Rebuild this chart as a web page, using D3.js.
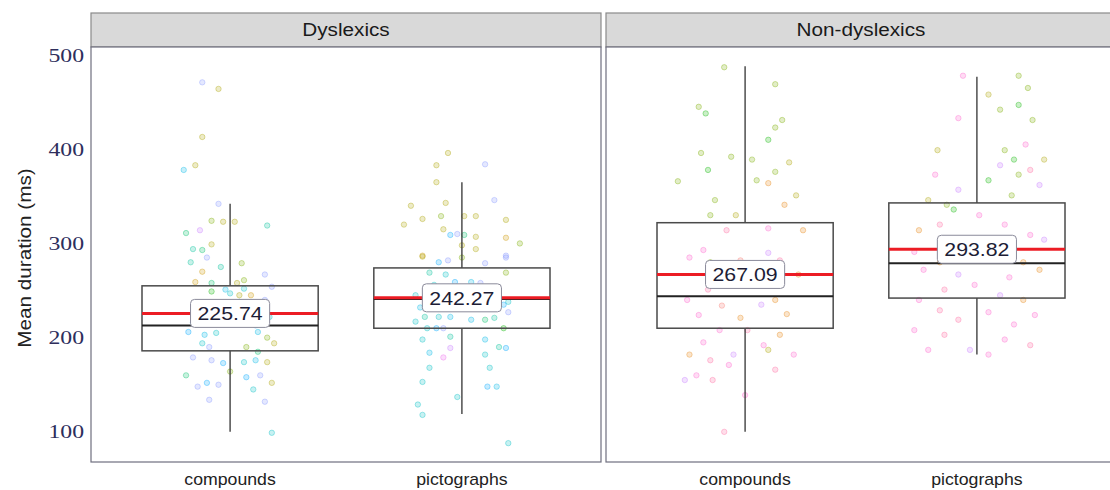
<!DOCTYPE html>
<html>
<head>
<meta charset="utf-8">
<script src="https://cdn.jsdelivr.net/npm/d3@7/dist/d3.min.js"></script>
<style>
  body { margin: 0; background: #fff; }
  svg { display: block; }
</style>
</head>
<body>
<svg id="chart"></svg>
<script>
// ---- data ----
var facets = ["Dyslexics", "Non-dyslexics"];
var conditions = ["compounds", "pictographs"];
var yTicks = [100, 200, 300, 400, 500];

// box stats, [facet][condition]
var whiskerLow  = [[100, 119], [100, 182]];
var boxQ1       = [[186, 210], [210, 242]];
var boxMedian   = [[213, 241], [244, 279]];
var boxQ3       = [[255, 274], [322, 343]];
var whiskerHigh = [[342, 365], [488, 477]];
var means       = [[225.74, 242.27], [267.09, 293.82]];

// hue palette used for the participant colours
var palette = ["#F8766D", "#E68613", "#CD9600", "#ABA300", "#7CAE00", "#0CB702",
               "#00BE67", "#00C19A", "#00BFC4", "#00B8E7", "#00A9FF", "#8494FF",
               "#C77CFF", "#ED68ED", "#FF61CC", "#FF68A1"];

// points: [jitter (category units), mean duration, colour index]
var dysCompounds = [
  [-0.12, 471, 11], [-0.05, 464, 3], [-0.12, 413, 3], [-0.20, 378, 9], [-0.15, 383, 3],
  [-0.05, 342, 11], [-0.08, 324, 4], [-0.03, 323, 3], [0.02, 323, 3], [0.16, 319, 7],
  [-0.19, 311, 6], [-0.13, 314, 12], [-0.16, 294, 7], [-0.12, 293, 6], [-0.08, 299, 3],
  [-0.17, 280, 7], [-0.10, 285, 11], [-0.04, 275, 7], [0.05, 279, 4], [-0.12, 270, 2],
  [0.15, 267, 11], [0.06, 261, 4], [0.03, 258, 3], [-0.08, 258, 6], [-0.15, 259, 2],
  [0.18, 254, 11], [-0.08, 249, 5], [0.00, 247, 8], [0.04, 245, 3], [0.09, 245, 2],
  [0.06, 252, 8], [-0.02, 251, 9], [-0.15, 236, 8], [-0.09, 230, 9], [0.12, 233, 10],
  [0.17, 222, 8], [-0.16, 216, 9], [-0.05, 218, 8], [0.11, 213, 10], [-0.12, 226, 7],
  [0.04, 238, 9], [0.15, 240, 11], [-0.18, 206, 10], [-0.11, 203, 9], [-0.06, 205, 8],
  [0.12, 206, 9], [0.16, 200, 4], [0.19, 194, 3], [-0.12, 194, 8], [-0.09, 190, 11],
  [0.07, 190, 4], [0.12, 185, 6], [-0.16, 179, 11], [-0.08, 176, 11], [-0.03, 173, 10],
  [0.06, 174, 8], [0.11, 176, 9], [0.16, 174, 3], [-0.19, 160, 6], [0.00, 164, 4],
  [0.07, 158, 10], [0.13, 160, 11], [-0.14, 148, 11], [-0.10, 152, 10], [-0.05, 150, 11],
  [0.18, 152, 3], [0.10, 145, 8], [-0.09, 134, 11], [0.15, 132, 11], [0.18, 99, 8]
];
var dysPictographs = [
  [-0.06, 396, 3], [-0.11, 383, 3], [0.10, 384, 11], [-0.11, 365, 3], [0.14, 346, 11],
  [-0.07, 343, 3], [-0.22, 340, 3], [-0.17, 326, 3], [-0.09, 329, 4], [0.01, 329, 3],
  [0.06, 329, 3], [0.19, 325, 3], [-0.25, 320, 3], [-0.08, 315, 3], [-0.05, 309, 10],
  [-0.02, 310, 11], [0.01, 309, 6], [0.06, 307, 3], [0.19, 306, 2], [0.25, 300, 4],
  [0.00, 298, 3], [0.06, 294, 3], [-0.17, 287, 2], [0.19, 287, 11], [-0.17, 286, 3],
  [-0.10, 280, 10], [-0.06, 282, 11], [0.00, 285, 4], [0.10, 279, 11], [0.19, 285, 11],
  [-0.14, 269, 7], [-0.07, 267, 8], [0.19, 269, 4], [-0.12, 256, 8], [-0.03, 259, 10],
  [0.04, 259, 9], [0.08, 258, 11], [-0.20, 245, 8], [-0.12, 250, 9], [0.13, 248, 10],
  [0.20, 238, 8], [-0.18, 232, 9], [0.05, 236, 8], [0.18, 235, 10], [0.20, 227, 11],
  [-0.20, 217, 8], [-0.16, 222, 7], [-0.10, 222, 8], [-0.05, 222, 9], [0.04, 219, 9],
  [0.10, 219, 6], [0.14, 221, 7], [0.18, 210, 5], [-0.15, 210, 8], [-0.11, 210, 10],
  [-0.08, 210, 11], [-0.17, 198, 8], [-0.05, 201, 7], [0.10, 198, 9], [0.16, 190, 7],
  [0.19, 189, 10], [-0.05, 189, 12], [-0.14, 184, 9], [0.10, 182, 8], [-0.08, 179, 13],
  [-0.14, 168, 8], [0.12, 168, 8], [-0.17, 153, 8], [0.11, 148, 10], [0.15, 148, 9],
  [-0.02, 137, 8], [-0.19, 129, 8], [-0.17, 118, 8], [0.20, 88, 8]
];
var nonCompounds = [
  [-0.09, 487, 4], [0.13, 469, 4], [-0.20, 445, 4], [-0.17, 438, 5], [0.16, 431, 4],
  [0.13, 423, 4], [0.10, 410, 5], [0.03, 389, 4], [0.19, 386, 3], [-0.06, 392, 4],
  [-0.19, 396, 4], [-0.16, 378, 5], [0.13, 376, 4], [0.05, 367, 4], [0.10, 364, 1],
  [-0.29, 366, 4], [0.22, 351, 3], [-0.13, 346, 4], [-0.04, 330, 3], [0.17, 341, 1],
  [-0.15, 330, 4], [0.10, 316, 14], [-0.08, 314, 15], [0.25, 314, 1], [-0.18, 293, 14],
  [0.10, 290, 12], [0.15, 282, 15], [-0.24, 285, 14], [-0.02, 282, 0], [-0.15, 280, 4],
  [0.23, 267, 1], [-0.07, 261, 14], [0.06, 256, 1], [-0.16, 251, 15], [-0.25, 240, 14],
  [0.13, 240, 1], [-0.10, 234, 0], [0.07, 235, 12], [-0.20, 224, 14], [-0.02, 221, 1],
  [0.18, 225, 1], [0.01, 208, 15], [-0.11, 208, 14], [0.15, 203, 1], [-0.18, 195, 14],
  [-0.24, 182, 1], [-0.15, 176, 15], [0.08, 192, 14], [0.21, 182, 14], [-0.05, 182, 12],
  [0.10, 187, 3], [-0.07, 171, 14], [0.13, 166, 15], [-0.21, 160, 14], [-0.26, 155, 12],
  [-0.14, 155, 15], [0.00, 139, 14], [-0.09, 100, 15]
];
var nonPictographs = [
  [-0.06, 478, 14], [0.18, 478, 4], [0.22, 465, 4], [0.05, 458, 3], [0.10, 442, 4],
  [0.18, 447, 5], [-0.08, 433, 14], [0.24, 431, 4], [-0.17, 399, 3], [0.12, 399, 4],
  [0.21, 405, 14], [0.16, 389, 5], [0.29, 389, 3], [0.10, 383, 12], [0.23, 378, 15],
  [0.18, 373, 4], [0.05, 367, 5], [0.27, 362, 12], [-0.18, 373, 14], [-0.08, 357, 12],
  [0.15, 351, 4], [-0.21, 346, 3], [-0.13, 341, 4], [-0.10, 336, 5], [0.01, 330, 14],
  [-0.16, 320, 15], [0.12, 320, 14], [-0.25, 314, 1], [0.23, 309, 14], [-0.08, 304, 15],
  [0.29, 304, 12], [-0.27, 291, 14], [0.10, 285, 15], [-0.16, 280, 1], [0.20, 280, 1],
  [-0.23, 272, 14], [-0.08, 267, 12], [0.14, 264, 14], [0.27, 272, 1], [-0.14, 251, 15],
  [-0.01, 256, 14], [0.10, 245, 12], [-0.25, 240, 14], [0.20, 240, 1], [-0.16, 229, 15],
  [0.05, 227, 14], [0.25, 224, 14], [-0.08, 219, 15], [0.16, 214, 14], [-0.27, 208, 14],
  [-0.14, 203, 15], [0.12, 198, 14], [0.23, 192, 15], [-0.21, 187, 14], [-0.03, 187, 12],
  [0.05, 182, 14]
];
var points = [[dysCompounds, dysPictographs], [nonCompounds, nonPictographs]];

// ---- layout ----
var W = 1110, H = 490,
    left = 91, gap = 5, panelW = 510,
    stripTop = 13, panelTop = 47, panelBottom = 462;

var svg = d3.select("#chart").attr("width", W).attr("height", H)
    .style("font-family", "'Liberation Sans', Arial, sans-serif");

var y = d3.scaleLinear().domain([68, 508.5]).range([panelBottom, panelTop]);

// text in the picture is a bit wider than the font, so stretch it
function stretch(sel, k) {
    sel.each(function() {
        var w = this.getComputedTextLength();
        d3.select(this).attr("textLength", w * k).attr("lengthAdjust", "spacingAndGlyphs");
    });
}

// y axis labels (no tick marks, serif)
var yAxis = svg.append("g")
    .attr("transform", "translate(" + (left - 7) + ",0)")
    .call(d3.axisLeft(y).tickValues(yTicks).tickSize(0).tickPadding(0));
yAxis.select(".domain").remove();
yAxis.selectAll("text")
    .attr("font-family", "'Liberation Serif', 'DejaVu Serif', serif")
    .attr("font-size", 19)
    .attr("fill", "#2e2e5c")
    .call(stretch, 1.25);

var ytitle = svg.append("text")
    .attr("transform", "translate(31," + 258 + ") rotate(-90)")
    .attr("text-anchor", "middle")
    .attr("font-size", 18)
    .attr("fill", "#222")
    .text("Mean duration (ms)")
    .call(stretch, 1.15);

facets.forEach(function(facet, fi) {
    var px = left + fi * (panelW + gap);
    var g = svg.append("g").attr("transform", "translate(" + px + ",0)");

    var x = d3.scalePoint().domain(conditions).range([0, panelW]).padding(0.6);
    var step = x.step();
    var boxW = step * 0.76;

    // strip
    g.append("rect")
        .attr("x", 0).attr("y", stripTop)
        .attr("width", panelW).attr("height", panelTop - stripTop)
        .attr("fill", "#d9d9d9").attr("stroke", "#8a8a8a").attr("stroke-width", 1.2);
    g.append("text")
        .attr("x", panelW / 2).attr("y", (stripTop + panelTop) / 2 + 6)
        .attr("text-anchor", "middle")
        .attr("font-size", 18).attr("fill", "#1a1a1a")
        .text(facet)
        .call(stretch, 1.15);

    // panel
    g.append("rect")
        .attr("x", 0).attr("y", panelTop)
        .attr("width", panelW).attr("height", panelBottom - panelTop)
        .attr("fill", "#fff").attr("stroke", "#6f6f7f").attr("stroke-width", 1.2);

    conditions.forEach(function(cond, ci) {
        var cx = x(cond);

        // jittered points
        g.append("g").selectAll("circle")
            .data(points[fi][ci])
            .enter().append("circle")
            .attr("cx", function(d) { return cx + d[0] * step; })
            .attr("cy", function(d) { return y(d[1]); })
            .attr("r", 2.7)
            .attr("fill", function(d) { return palette[d[2]]; })
            .attr("fill-opacity", 0.22)
            .attr("stroke", function(d) { return palette[d[2]]; })
            .attr("stroke-opacity", 0.45)
            .attr("stroke-width", 0.8);

        // whiskers
        g.append("line")
            .attr("x1", cx).attr("x2", cx)
            .attr("y1", y(whiskerHigh[fi][ci])).attr("y2", y(boxQ3[fi][ci]))
            .attr("stroke", "#333").attr("stroke-width", 1.3);
        g.append("line")
            .attr("x1", cx).attr("x2", cx)
            .attr("y1", y(boxQ1[fi][ci])).attr("y2", y(whiskerLow[fi][ci]))
            .attr("stroke", "#333").attr("stroke-width", 1.3);

        // box
        g.append("rect")
            .attr("x", cx - boxW / 2).attr("y", y(boxQ3[fi][ci]))
            .attr("width", boxW).attr("height", y(boxQ1[fi][ci]) - y(boxQ3[fi][ci]))
            .attr("fill", "none").attr("stroke", "#4a4a4a").attr("stroke-width", 1.5);

        // median
        g.append("line")
            .attr("x1", cx - boxW / 2).attr("x2", cx + boxW / 2)
            .attr("y1", y(boxMedian[fi][ci])).attr("y2", y(boxMedian[fi][ci]))
            .attr("stroke", "#222").attr("stroke-width", 2);

        // mean
        g.append("line")
            .attr("x1", cx - boxW / 2).attr("x2", cx + boxW / 2)
            .attr("y1", y(means[fi][ci])).attr("y2", y(means[fi][ci]))
            .attr("stroke", "#ec1c24").attr("stroke-width", 3);

        // mean label
        var lab = g.append("g");
        var lr = lab.append("rect");
        var lt = lab.append("text")
            .attr("x", cx).attr("y", y(means[fi][ci]) + 7)
            .attr("text-anchor", "middle")
            .attr("font-size", 19).attr("fill", "#1d1d36")
            .text(means[fi][ci].toFixed(2))
            .call(stretch, 1.12);
        var tw = +lt.attr("textLength");
        lr.attr("x", cx - tw / 2 - 7).attr("y", y(means[fi][ci]) - 14)
            .attr("width", tw + 14).attr("height", 28)
            .attr("rx", 4)
            .attr("fill", "#fff").attr("stroke", "#8a8a9a").attr("stroke-width", 1);

        // x label
        g.append("text")
            .attr("x", cx).attr("y", panelBottom + 23)
            .attr("text-anchor", "middle")
            .attr("font-size", 17).attr("fill", "#222")
            .text(cond)
            .call(stretch, 1.04);
    });
});
</script>
</body>
</html>
